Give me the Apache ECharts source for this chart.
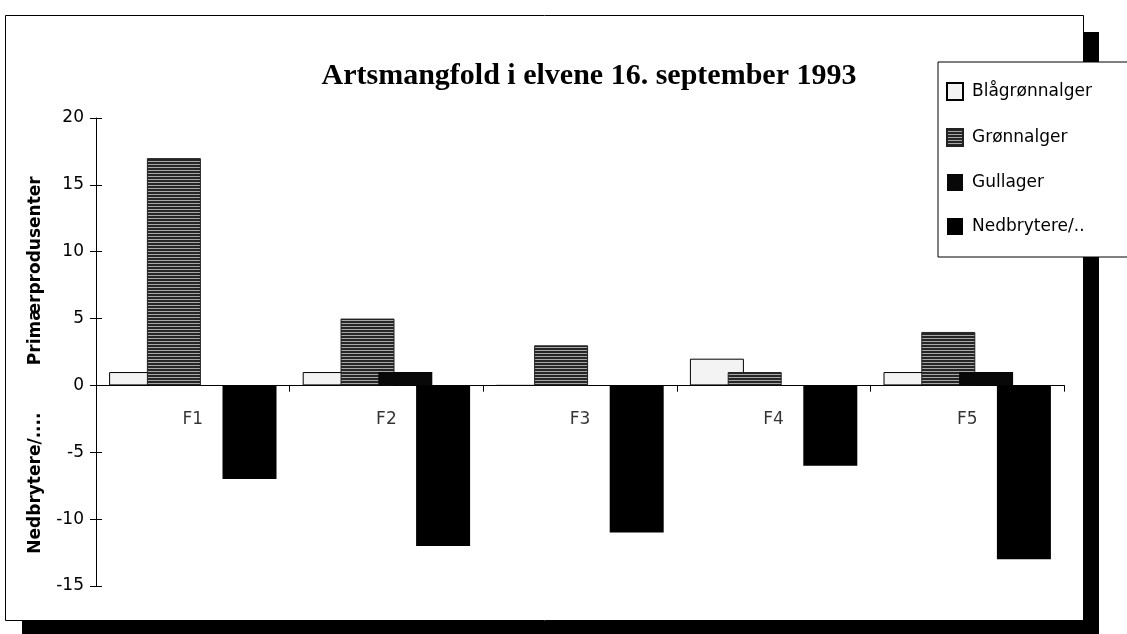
<!DOCTYPE html>
<html>
<head>
<meta charset="utf-8">
<script src="https://cdn.jsdelivr.net/npm/echarts@6/dist/echarts.min.js"></script>
<style>
  html, body { margin: 0; padding: 0; background: #fff; }
  #chart { width: 1127px; height: 634px; }
</style>
</head>
<body>
<div id="chart"></div>
<script>
var categories = ['F1', 'F2', 'F3', 'F4', 'F5'];
var blagronnalger = [1, 1, 0, 2, 1];
var gronnalger = [17, 5, 3, 1, 4];
var gullager = [0, 1, 0, 0, 1];
var nedbrytere = [-7, -12, -11, -6, -13];
var seriesNames = ['Blågrønnalger', 'Grønnalger', 'Gullager', 'Nedbrytere/..'];

// stripete fyll for grønnalger
function stripes() {
  var c = document.createElement('canvas');
  c.width = 4; c.height = 3;
  var ctx = c.getContext('2d');
  ctx.fillStyle = '#262626'; ctx.fillRect(0, 0, 4, 3);
  ctx.fillStyle = '#a8a8a8'; ctx.fillRect(0, 2, 4, 1);
  return c;
}

var font = '"DejaVu Sans", sans-serif';
var myChart = echarts.init(document.getElementById('chart'));
var option = {
  animation: false,
  backgroundColor: '#fff',
  title: {
    text: 'Artsmangfold i elvene 16. september 1993',
    left: 584,
    textAlign: 'center',
    top: 56,
    textStyle: { fontFamily: '"Liberation Serif", serif', fontWeight: 'bold', fontSize: 30, color: '#000' }
  },
  graphic: [
    { type: 'rect', z: 0, shape: { x: 5.5, y: 15.5, width: 1078, height: 605 }, style: { fill: 'none', stroke: '#000', lineWidth: 1 } },
    { type: 'rect', z: 0, shape: { x: 1083, y: 32, width: 16, height: 602 }, style: { fill: '#000' } },
    { type: 'rect', z: 0, shape: { x: 22, y: 621, width: 1077, height: 13 }, style: { fill: '#000' } }
  ],
  legend: {
    orient: 'vertical',
    left: 938,
    top: 62,
    padding: [20, 60, 22, 8],
    itemGap: 27,
    itemWidth: 16,
    itemHeight: 17,
    icon: 'rect',
    backgroundColor: '#fff',
    borderColor: '#000',
    borderWidth: 1,
    borderRadius: 0,
    z: 10,
    textStyle: { fontFamily: font, fontSize: 17, color: '#000', padding: [0, 0, 0, 4] },
    data: seriesNames
  },
  grid: { left: 96, top: 118, width: 968, height: 468 },
  xAxis: [{
    type: 'category',
    data: categories,
    axisLine: { onZero: true, lineStyle: { color: '#000', width: 1 } },
    axisTick: { show: true, length: 6, lineStyle: { color: '#000' } },
    axisLabel: { show: false }
  }, {
    type: 'category',
    data: categories,
    axisLine: { show: false, onZero: true },
    axisTick: { show: true, inside: true, length: 6, lineStyle: { color: '#000' } },
    axisLabel: { show: false }
  }],
  yAxis: [{
    type: 'value',
    min: -15,
    max: 20,
    interval: 5,
    name: 'Nedbrytere/....        Primærprodusenter',
    nameLocation: 'middle',
    nameRotate: 90,
    nameGap: 52,
    nameTextStyle: { fontFamily: font, fontWeight: 'bold', fontSize: 17, color: '#000', padding: [0, 0, 0, -26] },
    splitLine: { show: false },
    axisLine: { show: true, lineStyle: { color: '#000', width: 1 } },
    axisTick: { show: true, length: 6, lineStyle: { color: '#000' } },
    axisLabel: { margin: 12, fontFamily: font, fontSize: 17, color: '#000' }
  }, {
    type: 'value',
    position: 'left',
    min: -15,
    max: 20,
    interval: 5,
    splitLine: { show: false },
    axisLine: { show: false },
    axisTick: { show: true, inside: true, length: 6, lineStyle: { color: '#000' } },
    axisLabel: { show: false }
  }],
  series: [{
    name: seriesNames[0], type: 'bar', data: blagronnalger,
    barWidth: 54, barGap: '-30%',
    itemStyle: { color: '#f3f3f3', borderColor: '#000', borderWidth: 1 }
  }, {
    name: seriesNames[1], type: 'bar', data: gronnalger,
    barWidth: 54, barGap: '-30%',
    itemStyle: { color: { image: stripes(), repeat: 'repeat' }, borderColor: '#222', borderWidth: 1 }
  }, {
    name: seriesNames[2], type: 'bar', data: gullager,
    barWidth: 54, barGap: '-30%',
    itemStyle: { color: '#080808' }
  }, {
    name: seriesNames[3], type: 'bar', data: nedbrytere,
    barWidth: 54, barGap: '-30%',
    itemStyle: { color: '#000' }
  }, {
    // kategorinavn like under nullinjen
    name: 'labels', type: 'scatter', symbolSize: 0, silent: true,
    data: categories.map(function (c) { return [c, 0]; }),
    label: {
      show: true, position: 'bottom', distance: 26,
      formatter: function (p) { return categories[p.dataIndex]; },
      fontFamily: font, fontSize: 17, color: '#000'
    }
  }]
};

if (option && typeof option === 'object') {
  myChart.setOption(option);
}
</script>
</body>
</html>
